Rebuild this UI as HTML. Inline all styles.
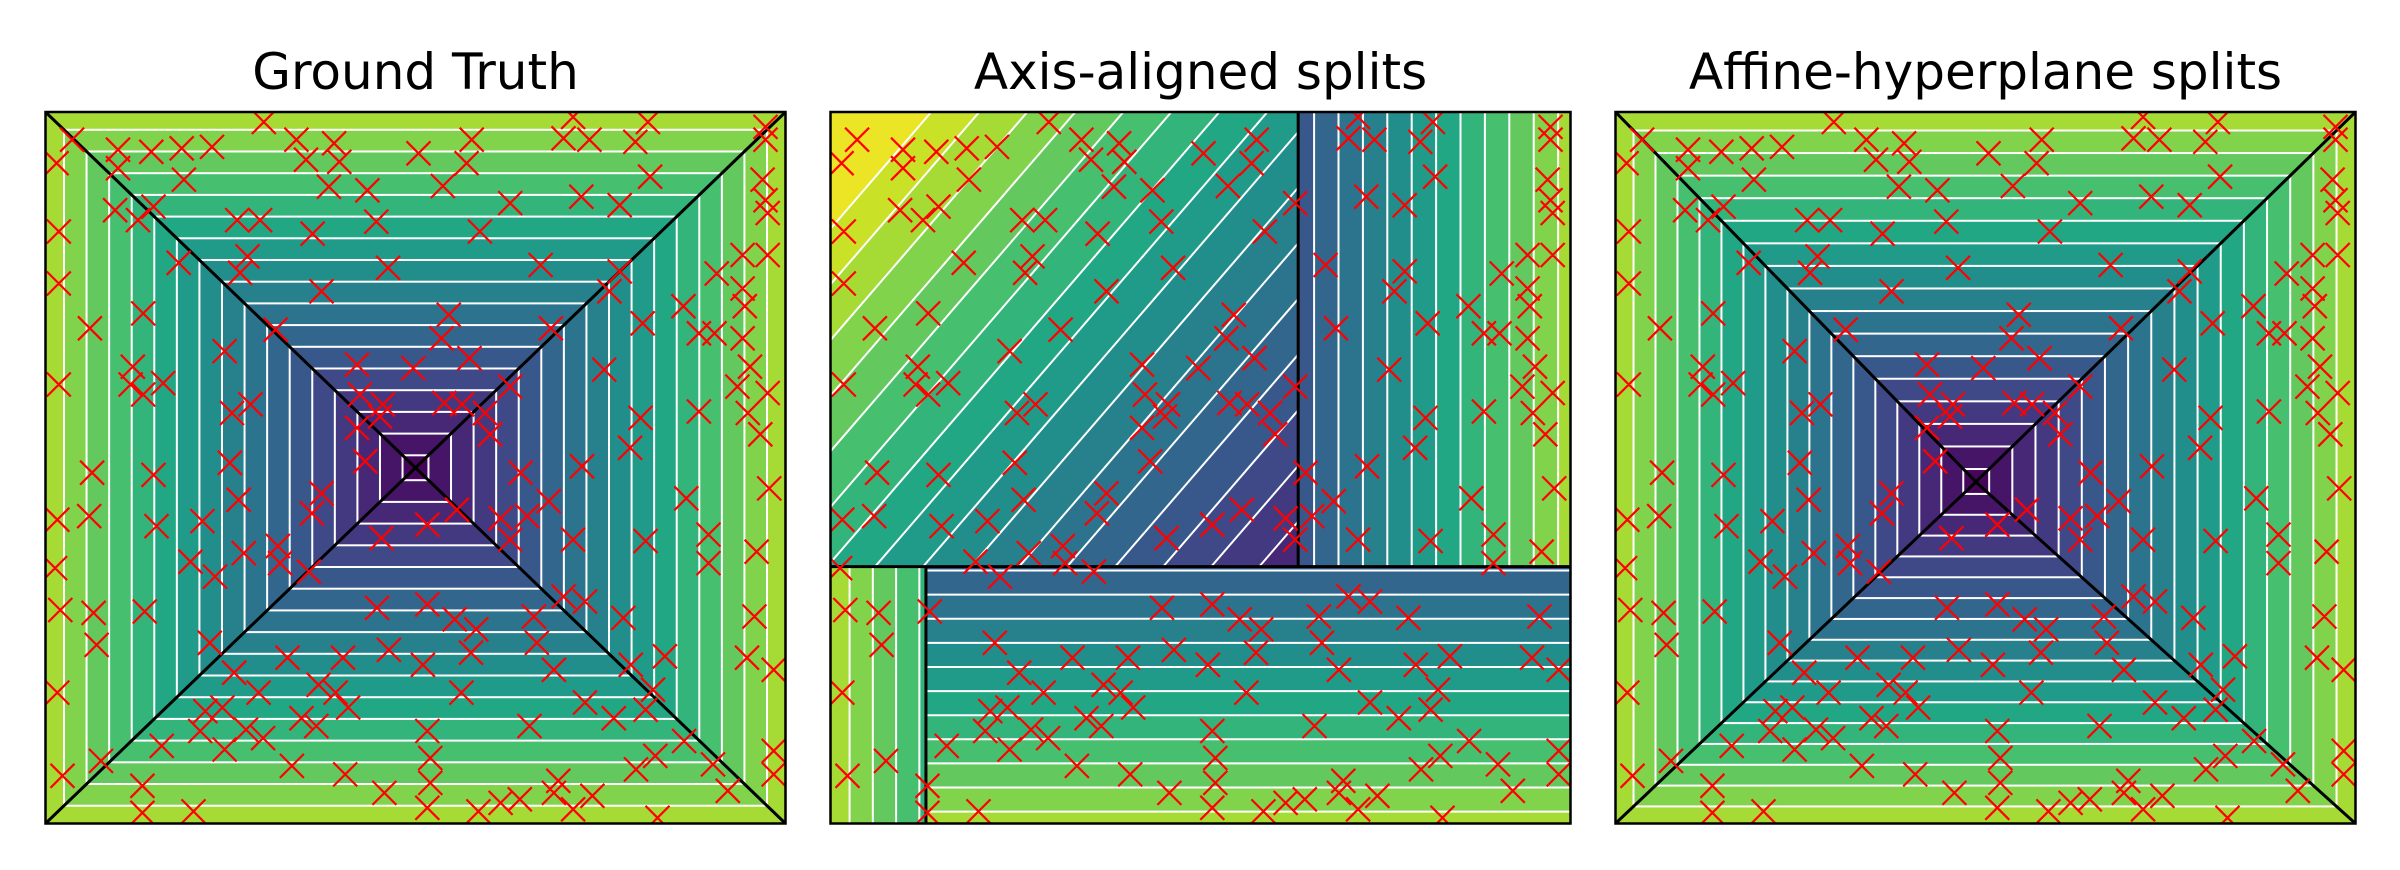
<!DOCTYPE html>
<html><head><meta charset="utf-8"><style>
html,body{margin:0;padding:0;background:#fff;width:2400px;height:870px;overflow:hidden;}
svg{display:block;}
text{font-family:"DejaVu Sans","Liberation Sans",sans-serif;}
</style></head><body>
<svg id="fig" width="2400" height="870" viewBox="0 0 2400 870" xmlns="http://www.w3.org/2000/svg">
<defs id="defs"></defs>
<g id="root"></g>
</svg>
<script>
// contour levels (shared by all panels)
const levels=[0,0.035,0.096,0.157,0.218,0.279,0.340,0.401,0.462,0.523,0.584,0.645,0.706,0.767,0.828,0.889,0.950,1.011,1.072,1.133];
// panel titles
const titles=["Ground Truth","Axis-aligned splits","Affine-hyperplane splits"];
// sample points, percent of panel (x left->right, y top->down)
const ptsX=[29.5,71.3,81.4,97.3,3.6,9.8,14.3,18.4,22.5,33.9,39.0,35.2,39.7,50.4,57.6,56.9,70.0,73.5,79.7,97.3,1.5,9.8,18.7,38.3,43.5,53.7,62.8,72.4,77.6,81.7,96.9,9.4,12.5,14.6,25.9,29.0,36.1,44.7,58.7,97.3,97.6,1.8,18.0,27.3,26.3,46.3,66.9,77.6,76.2,94.2,97.6,90.7,1.8,37.3,86.2,94.2,94.5,13.2,6.0,31.1,54.5,68.3,53.5,80.7,88.3,90.4,94.2,24.2,11.8,15.9,42.1,49.7,57.3,75.5,95.2,1.8,11.5,13.2,27.7,25.2,42.5,45.6,53.9,56.3,59.4,62.8,88.3,80.4,93.5,97.6,94.9,42.1,45.2,60.1,79.0,96.6,43.2,24.9,72.5,64.2,6.3,14.6,
5.9,1.6,15.0,21.2,26.1,37.3,36.0,51.6,45.4,55.6,61.5,65.1,62.8,68.0,71.3,86.6,97.8,81.1,89.6,96.1,1.3,19.6,22.9,26.8,31.4,31.7,35.6,89.6,2.0,6.5,13.4,44.8,51.6,55.3,58.2,66.0,70.0,72.9,78.1,95.8,6.9,22.2,32.7,40.2,46.4,51.0,57.5,66.4,68.7,83.7,79.1,94.8,98.4,1.6,25.5,28.8,36.9,39.2,56.2,72.9,82.1,21.6,23.9,34.6,40.9,76.8,81.1,15.7,20.9,27.1,29.4,24.2,36.6,51.6,65.4,86.3,7.5,33.3,40.5,52.0,69.3,82.4,79.8,90.2,98.4,98.4,2.3,13.1,45.8,52.0,68.7,73.9,92.2,13.1,20.0,51.6,58.5,61.5,64.1,71.3,82.7];
const ptsY=[1.4,0.7,1.4,2.1,3.9,5.3,5.6,5.1,4.9,3.9,4.4,6.7,7.0,5.8,3.9,7.2,3.7,3.9,4.2,3.9,7.2,7.9,9.5,10.5,11.0,10.4,12.8,11.9,13.1,9.1,9.5,13.8,15.2,13.3,15.2,15.2,17.1,15.4,16.8,12.4,14.2,16.8,21.2,20.3,22.6,21.9,21.5,22.4,25.2,20.1,20.1,22.7,24.1,25.2,27.3,24.8,27.3,28.3,30.4,30.6,28.5,30.4,31.8,29.7,31.1,31.1,31.8,33.6,35.8,38.1,35.5,36.0,34.6,36.2,35.8,38.3,38.3,39.7,41.1,42.3,39.7,41.1,40.9,41.1,42.3,38.6,42.1,43.0,38.6,39.5,42.3,44.4,42.8,45.3,47.2,45.3,49.1,49.3,49.8,50.7,50.7,51.0,
56.8,57.3,58.2,57.5,54.5,53.6,56.4,58.0,59.9,55.9,57.1,56.8,60.1,54.7,60.1,54.3,52.9,60.3,59.4,61.8,64.1,63.2,65.3,62.0,61.0,63.4,64.6,63.4,70.0,70.4,70.2,69.7,69.2,71.3,72.7,70.9,68.1,68.8,71.1,70.9,74.9,74.6,76.7,76.7,75.6,77.7,76.0,74.6,78.4,76.5,77.7,76.7,78.4,81.6,78.8,81.6,80.5,81.6,81.6,83.0,81.2,84.2,83.7,85.2,83.7,85.2,84.0,89.1,87.0,86.8,88.0,89.6,86.3,87.0,86.3,88.4,91.2,91.9,93.1,90.8,94.0,90.5,92.4,91.7,89.8,93.1,93.3,94.7,95.7,94.3,95.7,96.1,95.4,98.5,98.3,97.8,98.3,97.1,96.6,98.0,99.2];
// pyramid apex (percent) for panels 1 and 3
const apexGT=[50,50];
const apexAffine=[48.7,52.0];
// axis-aligned tree leaves: [x0,x1,y0,y1] percent, f = c + gx*x + gy*y
const leafRects=[[0,63.2,0,63.9],[63.2,100,0,63.9],[0,12.9,63.9,100],[12.9,100,63.9,100]];
const leafC=[1.20,-0.869,1.0,-0.820];
const leafGx=[-0.0094,0.0185,-0.0194,0];
const leafGy=[-0.0078,0,0,0.018];

const NS="http://www.w3.org/2000/svg";
const root=document.getElementById('root');
const defs=document.getElementById('defs');
const panelX=[45.5,830.5,1615.5], PY=112, PW=740, PH=711.5;
const vstops=["#440154","#482475","#414487","#355f8d","#2a788e","#21918c","#22a884","#44bf70","#7ad151","#bddf26","#fde725"];
function hx(h){return [1,3,5].map(i=>parseInt(h.substr(i,2),16));}
function viridis(t){t=Math.max(0,Math.min(1,t));const s=t*10,i=Math.min(9,Math.floor(s)),f=s-i;const a=hx(vstops[i]),b=hx(vstops[i+1]);return 'rgb('+a.map((v,k)=>Math.round(v+(b[k]-v)*f)).join(',')+')';}
const vmax=levels[levels.length-1];
function bandColor(i){const lo=levels[i],hi=levels[Math.min(i+1,levels.length-1)];return viridis(((lo+hi)/2)/vmax);}
const NB=levels.length-1;
function el(tag,attrs,parent){const e=document.createElementNS(NS,tag);for(const k in attrs)e.setAttribute(k,attrs[k]);(parent||root).appendChild(e);return e;}
function sx(p,x0){return x0+p/100*PW;}
function sy(p){return PY+p/100*PH;}

function clip(id,x,y,w,h){const c=el('clipPath',{id:id},defs);el('rect',{x:x,y:y,width:w,height:h},c);}

function pyramid(g,x0,ap){
  const ax=ap[0],ay=ap[1];
  let r=el('rect',{x:x0,y:PY,width:PW,height:PH,fill:bandColor(16)},g);
  
  
  for(let i=NB-1;i>=1;i--){
    const L=levels[i];
    if(L>=1) continue;
    const xa=sx(ax-L*ax,x0),xb=sx(ax+L*(100-ax),x0),ya=sy(ay-L*ay),yb=sy(ay+L*(100-ay));
    const rr=el('rect',{x:xa,y:ya,width:xb-xa,height:yb-ya,fill:bandColor(i-1),stroke:'#fff','stroke-width':2},g);
    
    
  }
  const cs=[[0,0],[100,0],[0,100],[100,100]];
  cs.forEach(c=>{const l=el('line',{x1:sx(c[0],x0),y1:sy(c[1]),x2:sx(ax,x0),y2:sy(ay),stroke:'#000','stroke-width':3},g);
    
    });
}
// clip polygon by half-plane h(p)>=0 (h linear)
function clipHalf(poly,h){
  const out=[];
  for(let i=0;i<poly.length;i++){
    const a=poly[i],b=poly[(i+1)%poly.length],ha=h(a),hb=h(b);
    if(ha>=0) out.push(a);
    if((ha>=0)!==(hb>=0)){const t=ha/(ha-hb);out.push([a[0]+(b[0]-a[0])*t,a[1]+(b[1]-a[1])*t]);}
  }
  return out;
}
function linearLeaf(g,x0,k){
  const R=leafRects[k],c=leafC[k],gx=leafGx[k],gy=leafGy[k];
  const lg=el('g',{},g);
  
  
  const f=p=>c+gx*p[0]+gy*p[1];
  const rect=[[R[0],R[2]],[R[1],R[2]],[R[1],R[3]],[R[0],R[3]]];
  const pt=p=>sx(p[0],x0).toFixed(1)+','+sy(p[1]).toFixed(1);
  for(let i=0;i<NB;i++){
    const L1=i===0?-99:levels[i],L2=i===NB-1?99:levels[i+1];
    let poly=clipHalf(rect,p=>f(p)-L1);
    poly=clipHalf(poly,p=>L2-f(p));
    if(poly.length<3) continue;
    const pg=el('polygon',{points:poly.map(pt).join(' '),fill:bandColor(i),stroke:bandColor(i),'stroke-width':0.6},lg);
    
    
  }
  for(let i=1;i<NB;i++){
    const L=levels[i],pts=[];
    for(let e=0;e<4;e++){const a=rect[e],b=rect[(e+1)%4],ha=f(a)-L,hb=f(b)-L;
      if((ha>=0)!==(hb>=0)){const t=ha/(ha-hb);pts.push([a[0]+(b[0]-a[0])*t,a[1]+(b[1]-a[1])*t]);}}
    if(pts.length<2) continue;
    const ln=el('line',{x1:sx(pts[0][0],x0),y1:sy(pts[0][1]),x2:sx(pts[1][0],x0),y2:sy(pts[1][1]),stroke:'#fff','stroke-width':2},lg);
    
    
  }
}
function markers(g,x0){
  let d='';const s=12;
  for(let i=0;i<ptsX.length;i++){const x=sx(ptsX[i],x0),y=sy(ptsY[i]);
    d+='M'+(x-s).toFixed(1)+' '+(y-s).toFixed(1)+'L'+(x+s).toFixed(1)+' '+(y+s).toFixed(1)+'M'+(x-s).toFixed(1)+' '+(y+s).toFixed(1)+'L'+(x+s).toFixed(1)+' '+(y-s).toFixed(1);}
  const p=el('path',{d:d,stroke:'#ff0000','stroke-width':2.2,fill:'none'},g);
  
  
}
for(let pi=0;pi<3;pi++){
  const x0=panelX[pi];
  const panel=el('g',{});
  
  
  const t=el('text',{x:x0+PW/2,y:89,'text-anchor':'middle','font-size':50,fill:'#000'},panel);
  t.textContent=titles[pi];
  
  
  clip('pc'+pi,x0,PY,PW,PH);
  const g=el('g',{'clip-path':'url(#pc'+pi+')'},panel);
  if(pi===0) pyramid(g,x0,apexGT);
  else if(pi===2) pyramid(g,x0,apexAffine);
  else{
    for(let k=0;k<leafRects.length;k++) linearLeaf(g,x0,k);
    const sp=[[63.2,0,63.2,63.9],[0,63.9,100,63.9],[12.9,63.9,12.9,100]];
    sp.forEach(s=>{const l=el('line',{x1:sx(s[0],x0),y1:sy(s[1]),x2:sx(s[2],x0),y2:sy(s[3]),stroke:'#000','stroke-width':3},g);
      
      });
  }
  markers(g,x0);
  const fr=el('rect',{x:x0,y:PY,width:PW,height:PH,fill:'none',stroke:'#000','stroke-width':2.5},panel);
  
  
}
</script>
</body></html>
